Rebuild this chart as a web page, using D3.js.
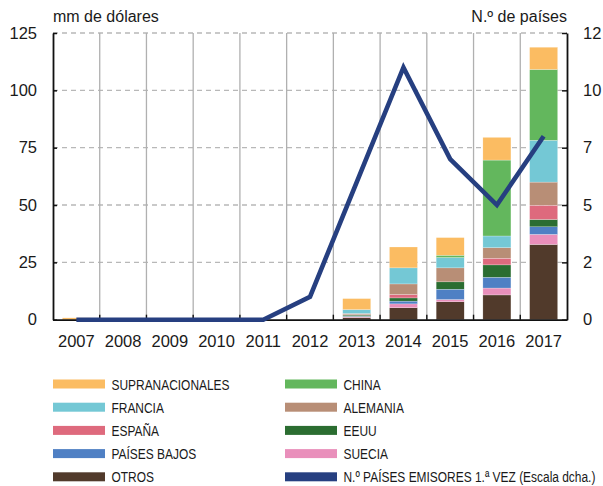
<!DOCTYPE html>
<html>
<head>
<meta charset="utf-8">
<script src="https://cdn.jsdelivr.net/npm/d3@7"></script>
<style>
  html, body { margin: 0; padding: 0; background: #fff; }
  svg text { font-family: "Liberation Sans", Arial, Helvetica, sans-serif; fill: #1a1a1a; }
</style>
</head>
<body>
<div id="chart"></div>
<script>
// --- data (mm de dólares / n.º de países) ---
const years = ["2007", "2008", "2009", "2010", "2011", "2012", "2013", "2014", "2015", "2016", "2017"];

const otros          = [0,   0, 0, 0, 0, 0, 0.9, 5.2, 7.8, 10.8, 32.8];
const suecia         = [0,   0, 0, 0, 0, 0, 0.3, 1.7, 1.0,  3.0,  4.4];
const paisesBajos    = [0,   0, 0, 0, 0, 0, 0.3, 1.2, 4.5,  4.7,  3.3];
const eeuu           = [0,   0, 0, 0, 0, 0, 0.5, 1.4, 3.2,  5.4,  3.2];
const espana         = [0,   0, 0, 0, 0, 0, 0.2, 1.5, 0,    2.9,  6.2];
const alemania       = [0,   0, 0, 0, 0, 0, 0.5, 4.6, 6.1,  4.6, 10.1];
const francia        = [0,   0, 0, 0, 0, 0, 1.7, 7.0, 4.5,  5.1, 18.2];
const china          = [0,   0, 0, 0, 0, 0, 0,   0,   1.0, 33.1, 30.9];
const supranacionales = [0.8, 0, 0, 0, 0, 0, 4.8, 9.1, 7.7,  9.9,  9.7];

// right scale: number of countries issuing for the first time
const paisesEmisores = [0, 0, 0, 0, 0, 1, 6, 11, 7, 5, 8];

const leftTicks = [0, 25, 50, 75, 100, 125];
const rightTicks = [0, 2.5, 5, 7.5, 10, 12.5];

// series, bottom to top of the stack
const seriesDefs = [
    { key: "OTROS", values: otros, color: "#513a2b" },
    { key: "SUECIA", values: suecia, color: "#e98fbb" },
    { key: "PAÍSES BAJOS", values: paisesBajos, color: "#4f80c4" },
    { key: "EEUU", values: eeuu, color: "#2b6d31" },
    { key: "ESPAÑA", values: espana, color: "#de6a7d" },
    { key: "ALEMANIA", values: alemania, color: "#b88e76" },
    { key: "FRANCIA", values: francia, color: "#74c8d5" },
    { key: "CHINA", values: china, color: "#63b75d" },
    { key: "SUPRANACIONALES", values: supranacionales, color: "#fbbc62" }
];
const lineColor = "#263f80";

(function () {
    const W = 603, H = 486;
    const plot = { left: 53, right: 567, top: 33, bottom: 319.7 };

    const svg = d3.select("#chart").append("svg")
        .attr("width", W).attr("height", H);

    const table = years.map((yr, i) => {
        const row = { year: yr };
        seriesDefs.forEach(s => { row[s.key] = s.values[i]; });
        return row;
    });

    const x = d3.scaleBand().domain(years).range([plot.left, plot.right]).padding(0);
    const y = d3.scaleLinear().domain([0, 125]).range([plot.bottom, plot.top]);
    const yR = d3.scaleLinear().domain([0, 12.5]).range([plot.bottom, plot.top]);
    const color = d3.scaleOrdinal().domain(seriesDefs.map(s => s.key)).range(seriesDefs.map(s => s.color));

    // gridlines
    const grid = svg.append("g");
    grid.selectAll(".hgrid")
        .data(leftTicks.filter(d => d > 0))
        .join("line")
        .attr("x1", plot.left).attr("x2", plot.right)
        .attr("y1", d => y(d)).attr("y2", d => y(d))
        .attr("stroke", "#b8b8b8").attr("stroke-width", 1.3)
        .attr("stroke-dasharray", "5,4");

    const bounds = years.slice(1).map(yr => x(yr));
    grid.selectAll(".vgrid")
        .data(bounds)
        .join("line")
        .attr("x1", d => d).attr("x2", d => d)
        .attr("y1", plot.top).attr("y2", plot.bottom)
        .attr("stroke", "#b0b0b0").attr("stroke-width", 1.3);

    // stacked bars
    const stacked = d3.stack().keys(seriesDefs.map(s => s.key))(table);
    const barW = x.bandwidth() * 0.6;
    svg.append("g")
        .selectAll("g")
        .data(stacked)
        .join("g")
        .attr("fill", d => color(d.key))
        .selectAll("rect")
        .data(d => d.filter(p => p[1] - p[0] > 0))
        .join("rect")
        .attr("x", d => x(d.data.year) + (x.bandwidth() - barW) / 2)
        .attr("width", barW)
        .attr("y", d => y(d[1]))
        .attr("height", d => y(d[0]) - y(d[1]))
        .attr("stroke", "#ffffff").attr("stroke-width", 0.4).attr("stroke-opacity", 0.6);

    // axes
    const axisLeft = d3.axisLeft(y).tickValues(leftTicks).tickSizeInner(-4).tickSizeOuter(0).tickPadding(16);
    const gL = svg.append("g").attr("transform", `translate(${plot.left},0)`).call(axisLeft);

    const axisRight = d3.axisRight(yR).tickValues(rightTicks).tickSizeInner(-5).tickSizeOuter(0)
        .tickPadding(16).tickFormat(d => Math.floor(d));
    const gR = svg.append("g").attr("transform", `translate(${plot.right},0)`).call(axisRight);

    const axisBottom = d3.axisBottom(x).tickSize(0).tickPadding(16);
    const gB = svg.append("g").attr("transform", `translate(0,${plot.bottom})`).call(axisBottom);

    [gL, gR, gB].forEach(g => {
        g.select(".domain").attr("stroke", "#111").attr("stroke-width", 1.8);
        g.selectAll(".tick line").attr("stroke", "#111").attr("stroke-width", 1.5);
        g.selectAll("text").attr("font-size", "16.5px").attr("fill", "#1a1a1a");
    });

    // small boundary ticks on the x axis
    svg.append("g").selectAll("line")
        .data(bounds)
        .join("line")
        .attr("x1", d => d).attr("x2", d => d)
        .attr("y1", plot.bottom - 5).attr("y2", plot.bottom)
        .attr("stroke", "#111").attr("stroke-width", 1.4);

    // line on right scale
    const line = d3.line()
        .x((d, i) => x(years[i]) + x.bandwidth() / 2)
        .y(d => yR(d));
    svg.append("path")
        .datum(paisesEmisores)
        .attr("d", line)
        .attr("fill", "none")
        .attr("stroke", lineColor)
        .attr("stroke-width", 4.6)
        .attr("stroke-linejoin", "miter");

    // axis titles
    svg.append("text").attr("x", plot.left).attr("y", 22)
        .attr("font-size", "16px").text("mm de dólares");
    svg.append("text").attr("x", plot.right).attr("y", 22)
        .attr("text-anchor", "end").attr("font-size", "16px").text("N.º de países");

    // legend (condensed type: horizontally squeezed text)
    const legendItems = [
        { name: "SUPRANACIONALES", color: color("SUPRANACIONALES") },
        { name: "FRANCIA", color: color("FRANCIA") },
        { name: "ESPAÑA", color: color("ESPAÑA") },
        { name: "PAÍSES BAJOS", color: color("PAÍSES BAJOS") },
        { name: "OTROS", color: color("OTROS") },
        { name: "CHINA", color: color("CHINA") },
        { name: "ALEMANIA", color: color("ALEMANIA") },
        { name: "EEUU", color: color("EEUU") },
        { name: "SUECIA", color: color("SUECIA") },
        { name: "N.º PAÍSES EMISORES 1.ª VEZ (Escala dcha.)", color: lineColor }
    ];
    const colX = [53, 285];
    const legend = svg.append("g").attr("class", "legend");
    const li = legend.selectAll("g")
        .data(legendItems)
        .join("g")
        .attr("transform", (d, i) => `translate(${colX[Math.floor(i / 5)]},${384 + (i % 5) * 23.2})`);
    li.append("rect")
        .attr("x", 0).attr("y", -4.5)
        .attr("width", 52).attr("height", 9)
        .attr("fill", d => d.color);
    li.append("text")
        .attr("transform", "translate(58.5,0) scale(0.77,1)")
        .attr("dy", "0.36em")
        .attr("font-size", "15.5px")
        .attr("fill", "#222")
        .text(d => d.name);
})();
</script>
</body>
</html>
